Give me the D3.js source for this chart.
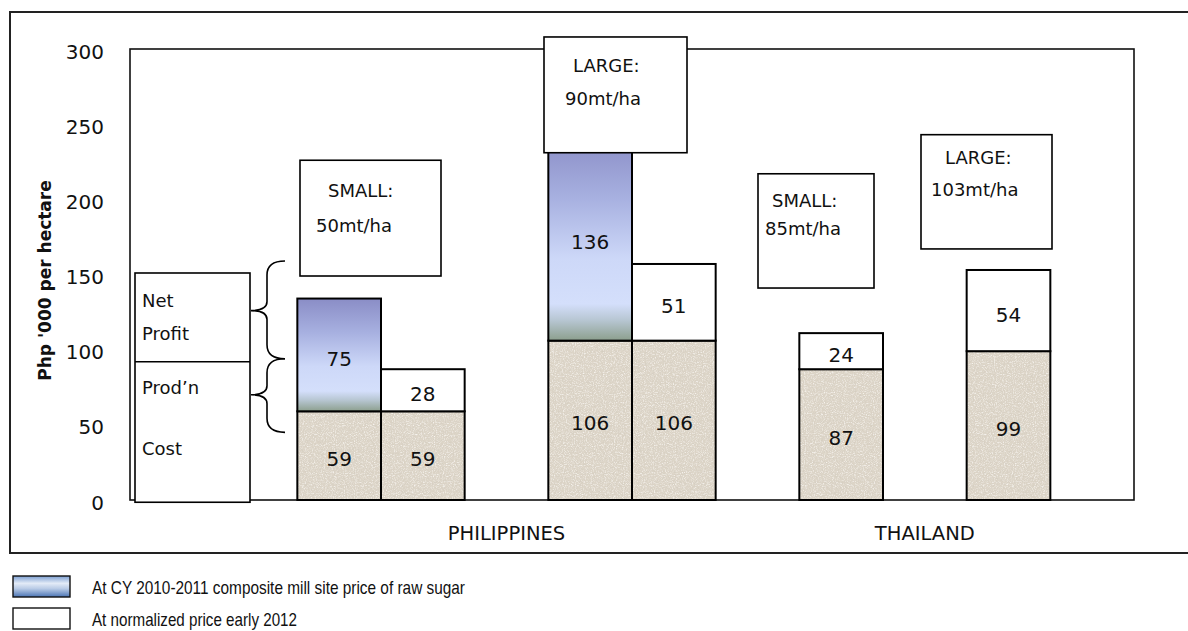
<!DOCTYPE html>
<html>
<head>
<meta charset="utf-8">
<script src="https://cdn.jsdelivr.net/npm/d3@7"></script>
<style>
  html, body { margin: 0; padding: 0; background: #fff; }
  svg { display: block; }
</style>
</head>
<body>
<script>
// ---- data ----
const countries   = ["PHILIPPINES", "THAILAND"];
const yTicks      = [0, 50, 100, 150, 200, 250, 300];
const barCountry  = ["PHILIPPINES", "PHILIPPINES", "PHILIPPINES", "PHILIPPINES", "THAILAND", "THAILAND"];
const barBasis    = ["CY2010-2011", "EARLY2012", "CY2010-2011", "EARLY2012", "EARLY2012", "EARLY2012"];
const prodCost    = [59, 59, 106, 106, 87, 99];
const netProfit   = [75, 28, 136, 51, 24, 54];
const yieldNotes  = [["SMALL:", "50mt/ha"], ["LARGE:", "90mt/ha"], ["SMALL:", "85mt/ha"], ["LARGE:", "103mt/ha"]];
const keyLines    = [["Net", "Profit"], ["Prod\u2019n", "Cost"]];
const legendItems = ["At CY 2010-2011 composite mill site price of raw sugar", "At normalized price early 2012"];
const yTitle      = "Php '000 per hectare";

// ---- layout ----
const W = 1188, H = 631;
const FONT = "'DejaVu Sans', 'Open Sans', sans-serif";
const barSlot = [2, 3, 5, 6, 8, 10];           // band slot of each bar
const countrySpan = [[2, 6], [8, 10]];          // slot span under each country label
const noteBox = [
  { x0: 300, x1: 441, v0: 149, v1: 226, tx: [328, 316], ty: [190, 225] },
  { x0: 544, x1: 687, v0: 231, v1: 308, tx: [573, 565], ty: [65, 98] },
  { x0: 758, x1: 874, v0: 141, v1: 217, tx: [772, 765], ty: [200, 228] },
  { x0: 921, x1: 1052, v0: 167, v1: 243, tx: [945, 931], ty: [157, 189] }
];

const svg = d3.select("body").append("svg").attr("width", W).attr("height", H);
const defs = svg.append("defs");

// vertical blue wash used for the CY 2010-2011 profit segments
const g1 = defs.append("linearGradient").attr("id", "cyFill").attr("x1", 0).attr("y1", 0).attr("x2", 0).attr("y2", 1);
[[0, "#8a8dc6"], [0.3, "#a7b0e0"], [0.6, "#cdd8f8"], [0.82, "#d4dffb"], [0.9, "#b7c6d2"], [1, "#8c9f8d"]]
  .forEach(([o, c]) => g1.append("stop").attr("offset", o).attr("stop-color", c));

// legend swatch shading
const g2 = defs.append("linearGradient").attr("id", "keyFill").attr("x1", 0).attr("y1", 0).attr("x2", 0).attr("y2", 1);
[[0, "#7c9fd2"], [0.35, "#e3ebf7"], [0.6, "#b9cbe6"], [1, "#4a74b4"]]
  .forEach(([o, c]) => g2.append("stop").attr("offset", o).attr("stop-color", c));

// sandstone grain for the production cost segments
const f = defs.append("filter").attr("id", "stone").attr("x", 0).attr("y", 0).attr("width", 1).attr("height", 1);
f.append("feTurbulence").attr("type", "fractalNoise").attr("baseFrequency", 0.55).attr("numOctaves", 3).attr("seed", 7).attr("result", "n");
f.append("feColorMatrix").attr("in", "n").attr("type", "matrix")
  .attr("values", "0 0 0 0 0.66  0 0 0 0 0.61  0 0 0 0 0.53  2.2 0 0 0 -0.95").attr("result", "sp");
f.append("feComposite").attr("in", "sp").attr("in2", "SourceGraphic").attr("operator", "in").attr("result", "sp2");
f.append("feTurbulence").attr("type", "fractalNoise").attr("baseFrequency", 0.9).attr("numOctaves", 2).attr("seed", 3).attr("result", "n2");
f.append("feColorMatrix").attr("in", "n2").attr("type", "matrix")
  .attr("values", "0 0 0 0 0.97  0 0 0 0 0.95  0 0 0 0 0.92  0 2.0 0 0 -0.95").attr("result", "lt");
f.append("feComposite").attr("in", "lt").attr("in2", "SourceGraphic").attr("operator", "in").attr("result", "lt2");
const fm = f.append("feMerge");
fm.append("feMergeNode").attr("in", "SourceGraphic");
fm.append("feMergeNode").attr("in", "sp2");
fm.append("feMergeNode").attr("in", "lt2");

// ---- scales ----
const x = d3.scaleBand().domain(d3.range(12)).range([130, 1134]).padding(0);
const y = d3.scaleLinear().domain([0, 300]).range([500, 49]);
const bw = x.bandwidth();

// outer chart frame
svg.append("rect").attr("x", 10).attr("y", 12).attr("width", 1200).attr("height", 541)
  .attr("fill", "none").attr("stroke", "#222").attr("stroke-width", 2);

// plot area border
svg.append("rect").attr("x", 130).attr("y", y(300)).attr("width", 1134 - 130).attr("height", y(0) - y(300))
  .attr("fill", "#fff").attr("stroke", "#111").attr("stroke-width", 1.6);

// y axis labels
const ax = svg.append("g").attr("transform", "translate(104,0)")
  .call(d3.axisLeft(y).tickValues(yTicks).tickSize(0).tickPadding(0));
ax.select(".domain").remove();
ax.selectAll("text").attr("font-family", FONT).attr("font-size", 20).attr("fill", "#111").attr("dy", "0.45em");

// y axis title
svg.append("text").attr("transform", `translate(51,${(y(0) + y(300)) / 2 + 6}) rotate(-90)`)
  .attr("text-anchor", "middle").attr("font-family", FONT).attr("font-weight", "bold")
  .attr("font-size", 17).attr("fill", "#111").text(yTitle);

// ---- bars ----
const bars = svg.append("g");
prodCost.forEach((c, i) => {
  const bx = x(barSlot[i]);
  const p = netProfit[i];
  // production cost
  bars.append("rect").attr("x", bx).attr("y", y(c)).attr("width", bw).attr("height", y(0) - y(c))
    .attr("fill", "#ddd5c8").attr("filter", "url(#stone)");
  bars.append("rect").attr("x", bx).attr("y", y(c)).attr("width", bw).attr("height", y(0) - y(c))
    .attr("fill", "none").attr("stroke", "#000").attr("stroke-width", 2);
  // net profit
  bars.append("rect").attr("x", bx).attr("y", y(c + p)).attr("width", bw).attr("height", y(c) - y(c + p))
    .attr("fill", barBasis[i] === "CY2010-2011" ? "url(#cyFill)" : "#fff")
    .attr("stroke", "#000").attr("stroke-width", 2);
  // value labels
  bars.append("text").attr("x", bx + bw / 2).attr("y", (y(0) + y(c)) / 2 + 3)
    .attr("text-anchor", "middle").attr("dominant-baseline", "central")
    .attr("font-family", FONT).attr("font-size", 20).attr("fill", "#111").text(c);
  bars.append("text").attr("x", bx + bw / 2).attr("y", (y(c) + y(c + p)) / 2 + 4)
    .attr("text-anchor", "middle").attr("dominant-baseline", "central")
    .attr("font-family", FONT).attr("font-size", 20).attr("fill", "#111").text(p);
});

// ---- yield note boxes ----
noteBox.forEach((b, i) => {
  svg.append("rect").attr("x", b.x0).attr("y", y(b.v1)).attr("width", b.x1 - b.x0).attr("height", y(b.v0) - y(b.v1))
    .attr("fill", "#fff").attr("stroke", "#000").attr("stroke-width", 1.6);
  yieldNotes[i].forEach((t, k) => {
    svg.append("text").attr("x", b.tx[k]).attr("y", b.ty[k]).attr("dominant-baseline", "central")
      .attr("font-family", FONT).attr("font-size", 18).attr("fill", "#111").text(t);
  });
});

// ---- key box: Net Profit / Prod'n Cost ----
const kx0 = 135, kx1 = 250;
svg.append("rect").attr("x", kx0).attr("y", y(151)).attr("width", kx1 - kx0).attr("height", y(-1.5) - y(151))
  .attr("fill", "#fff").attr("stroke", "#000").attr("stroke-width", 1.6);
svg.append("line").attr("x1", kx0).attr("x2", kx1).attr("y1", y(92)).attr("y2", y(92))
  .attr("stroke", "#000").attr("stroke-width", 1.6);
const keyY = [[300, 333], [387, 448]];
keyLines.forEach((lines, i) => lines.forEach((t, k) => {
  svg.append("text").attr("x", 142).attr("y", keyY[i][k]).attr("dominant-baseline", "central")
    .attr("font-family", FONT).attr("font-size", 18).attr("fill", "#111").text(t);
}));

// curly braces pointing to the key
function brace(top, tip, bottom) {
  const xs = 267, xt = 251, xe = 285;
  const a = y(top), m = y(tip), b = y(bottom);
  const p = d3.path();
  p.moveTo(xe, a);
  p.quadraticCurveTo(xs, a, xs, a + 14);
  p.lineTo(xs, m - 9);
  p.quadraticCurveTo(xs, m, xt, m);
  p.quadraticCurveTo(xs, m, xs, m + 9);
  p.lineTo(xs, b - 14);
  p.quadraticCurveTo(xs, b, xe, b);
  return p.toString();
}
svg.append("path").attr("d", brace(159, 126, 94)).attr("fill", "none").attr("stroke", "#000").attr("stroke-width", 1.6);
svg.append("path").attr("d", brace(94, 70, 45)).attr("fill", "none").attr("stroke", "#000").attr("stroke-width", 1.6);

// ---- country labels ----
countries.forEach((c, i) => {
  const [s0, s1] = countrySpan[i];
  svg.append("text").attr("x", (x(s0) + x(s1) + bw) / 2).attr("y", 540)
    .attr("text-anchor", "middle").attr("font-family", FONT).attr("font-size", 19.5).attr("fill", "#111").text(c);
});

// ---- legend ----
const LFONT = "'Liberation Sans Narrow', 'Arial Narrow', 'Liberation Sans', sans-serif";
const legY = [576, 608];
const legLen = [373, 205];
legendItems.forEach((t, i) => {
  svg.append("rect").attr("x", 13).attr("y", legY[i]).attr("width", 57).attr("height", 21)
    .attr("fill", i === 0 ? "url(#keyFill)" : "#fff").attr("stroke", "#111").attr("stroke-width", 1.4);
  svg.append("text").attr("x", 92).attr("y", legY[i] + 18)
    .attr("font-family", LFONT).attr("font-size", 18.5).attr("fill", "#111")
    .attr("textLength", legLen[i]).attr("lengthAdjust", "spacingAndGlyphs").text(t);
});
</script>
</body>
</html>
